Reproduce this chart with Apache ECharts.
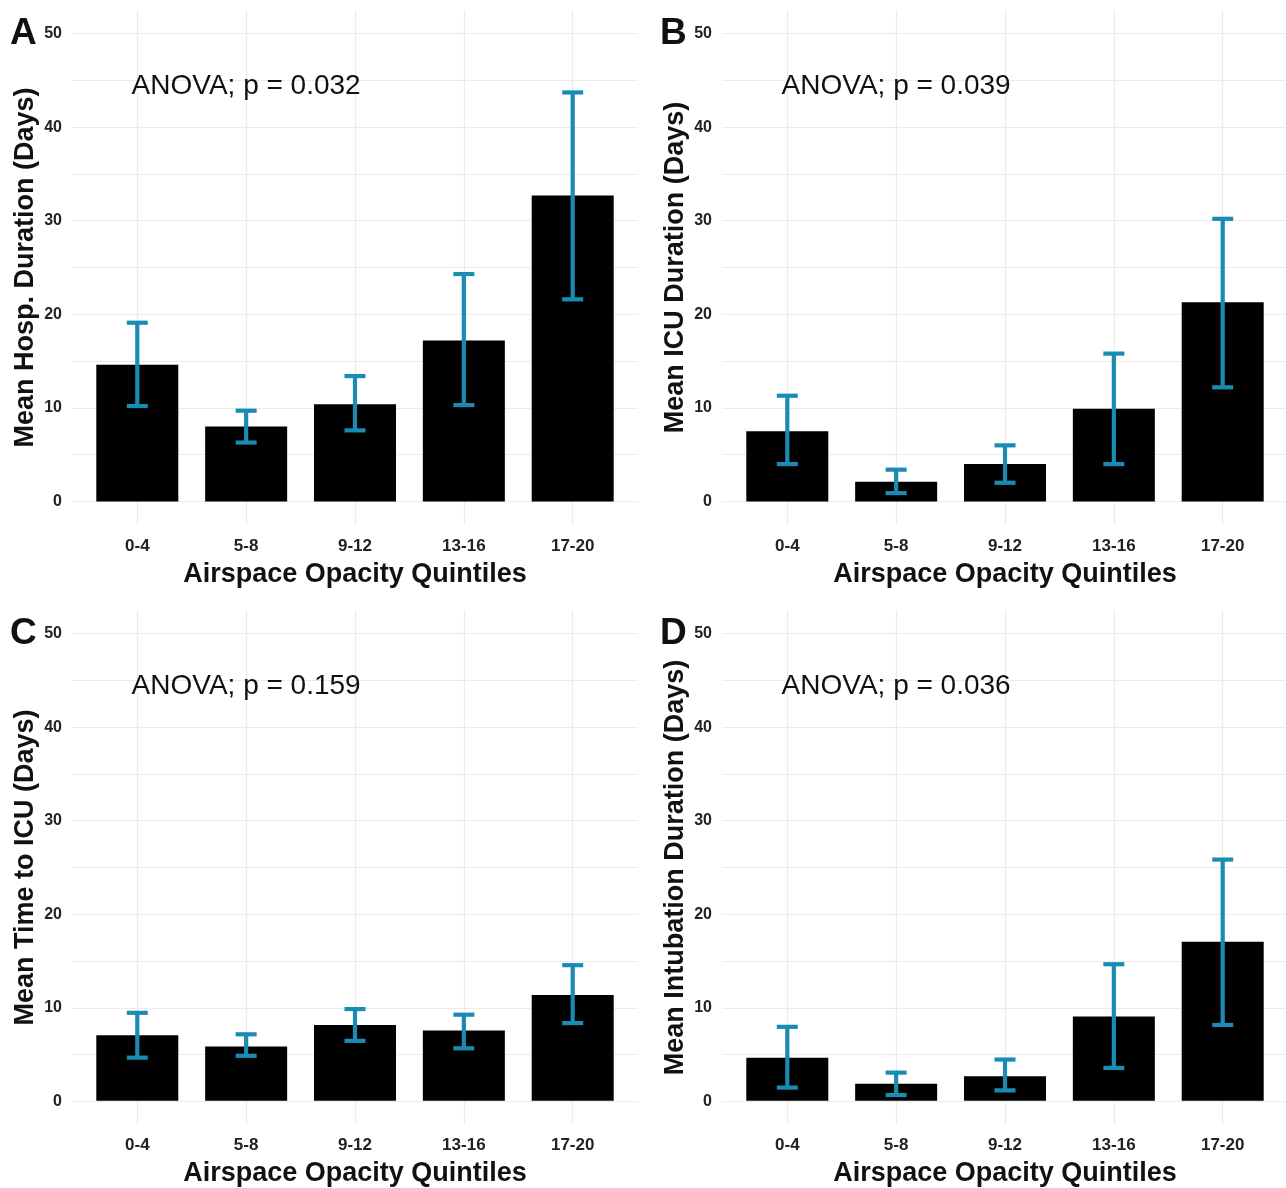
<!DOCTYPE html>
<html>
<head>
<meta charset="utf-8">
<script src="https://cdn.jsdelivr.net/npm/echarts@6/dist/echarts.min.js"></script>
<style>
html,body{margin:0;padding:0;background:#fff;}
#chart{width:1286px;height:1188px;}
</style>
</head>
<body>
<div id="chart"></div>
<script>
const categories = ['0-4', '5-8', '9-12', '13-16', '17-20'];
const yTickValues = [0, 10, 20, 30, 40, 50];

const hospMean = [14.6, 8.0, 10.4, 17.2, 32.7];
const hospLow  = [10.2, 6.3, 7.6, 10.3, 21.6];
const hospHigh = [19.1, 9.7, 13.4, 24.3, 43.7];

const icuMean = [7.5, 2.1, 4.0, 9.9, 21.3];
const icuLow  = [4.0, 0.9, 2.0, 4.0, 12.2];
const icuHigh = [11.3, 3.4, 6.0, 15.8, 30.2];

const timeMean = [7.0, 5.8, 8.1, 7.5, 11.3];
const timeLow  = [4.6, 4.8, 6.4, 5.6, 8.3];
const timeHigh = [9.4, 7.1, 9.8, 9.2, 14.5];

const intubMean = [4.6, 1.8, 2.6, 9.0, 17.0];
const intubLow  = [1.4, 0.6, 1.1, 3.5, 8.1];
const intubHigh = [7.9, 3.0, 4.4, 14.6, 25.8];

const panelLetters = ['A', 'B', 'C', 'D'];
const yTitles = ['Mean Hosp. Duration (Days)', 'Mean ICU Duration (Days)', 'Mean Time to ICU (Days)', 'Mean Intubation Duration (Days)'];
const xTitle = 'Airspace Opacity Quintiles';
const anovaTexts = ['ANOVA; p = 0.032', 'ANOVA; p = 0.039', 'ANOVA; p = 0.159', 'ANOVA; p = 0.036'];
const anovaCategory = 1;
const anovaY = 44.4;

const panels = [
  {mean: hospMean, low: hospLow, high: hospHigh},
  {mean: icuMean, low: icuLow, high: icuHigh},
  {mean: timeMean, low: timeLow, high: timeHigh},
  {mean: intubMean, low: intubLow, high: intubHigh}
];

const FONT = '"Liberation Sans", Arial, sans-serif';
const ERR_COLOR = '#1a8cb4';
const GRID_COLOR = '#ebebeb';

const grid = [], xAxis = [], yAxis = [], series = [], graphic = [];

panels.forEach((p, i) => {
  const dx = (i % 2) * 650;
  const dy = Math.floor(i / 2) * 600;
  const hi = 2 * i, vi = 2 * i + 1;
  grid.push({left: 72 + dx, top: 33.5 + dy, width: 566, height: 468});
  grid.push({left: 137.3 + dx, top: 10.1 + dy, width: 435.4, height: 514.8});

  xAxis.push({type: 'value', gridIndex: hi, show: false, min: 0, max: 1});
  xAxis.push({
    type: 'category', gridIndex: vi, data: categories, boundaryGap: false,
    axisLine: {show: false}, axisTick: {show: false},
    splitLine: {show: true, interval: 0, lineStyle: {color: GRID_COLOR, width: 1.2}},
    axisLabel: {interval: 0, margin: 13, fontFamily: FONT, fontWeight: 'bold', fontSize: 17, color: '#222'},
    name: xTitle, nameLocation: 'middle', nameGap: 36,
    nameTextStyle: {fontFamily: FONT, fontWeight: 'bold', fontSize: 27, color: '#111'}
  });
  yAxis.push({
    type: 'value', gridIndex: hi, min: 0, max: 50, interval: 5,
    axisLine: {show: false}, axisTick: {show: false},
    splitLine: {show: true, lineStyle: {color: GRID_COLOR, width: 1.2}},
    axisLabel: {margin: 10, fontFamily: FONT, fontWeight: 'bold', fontSize: 16, color: '#222',
      formatter: v => (yTickValues.indexOf(v) >= 0 ? String(v) : '')},
    name: yTitles[i], nameLocation: 'middle', nameGap: 33,
    nameTextStyle: {fontFamily: FONT, fontWeight: 'bold', fontSize: 27, color: '#111'}
  });
  yAxis.push({type: 'value', gridIndex: vi, min: -2.5, max: 52.5, show: false});

  series.push({
    type: 'bar', xAxisIndex: vi, yAxisIndex: vi, data: p.mean, barWidth: 82,
    clip: false, itemStyle: {color: '#000'}, silent: true, z: 2
  });
  series.push({
    type: 'custom', xAxisIndex: vi, yAxisIndex: vi, clip: false, z: 3, silent: true,
    data: p.mean.map((m, k) => [k, p.low[k], p.high[k]]),
    encode: {x: 0, y: [1, 2]},
    renderItem: function (params, api) {
      const lo = api.coord([api.value(0), api.value(1)]);
      const hiP = api.coord([api.value(0), api.value(2)]);
      const hw = 10.5;
      const st = {stroke: ERR_COLOR, lineWidth: 4.2, lineCap: 'butt'};
      return {type: 'group', children: [
        {type: 'line', shape: {x1: lo[0], y1: lo[1], x2: hiP[0], y2: hiP[1]}, style: st},
        {type: 'line', shape: {x1: lo[0] - hw, y1: lo[1], x2: lo[0] + hw, y2: lo[1]}, style: st},
        {type: 'line', shape: {x1: hiP[0] - hw, y1: hiP[1], x2: hiP[0] + hw, y2: hiP[1]}, style: st}
      ]};
    }
  });
  series.push({
    type: 'custom', xAxisIndex: vi, yAxisIndex: vi, clip: false, z: 4, silent: true,
    data: [[anovaCategory, anovaY]],
    renderItem: function (params, api) {
      const c = api.coord([api.value(0), api.value(1)]);
      return {type: 'text', x: c[0], y: c[1], style: {
        text: anovaTexts[i], font: '28px ' + FONT, fill: '#111', align: 'center', verticalAlign: 'middle'}};
    }
  });

  graphic.push({
    type: 'text', x: 10 + dx, y: 34 + dy,
    style: {text: panelLetters[i], font: 'bold 37px ' + FONT, fill: '#111', verticalAlign: 'middle'}
  });
});

const chart = echarts.init(document.getElementById('chart'), null, {renderer: 'canvas'});
chart.setOption({
  backgroundColor: '#fff',
  animation: false,
  grid, xAxis, yAxis, series, graphic
});
</script>
</body>
</html>
